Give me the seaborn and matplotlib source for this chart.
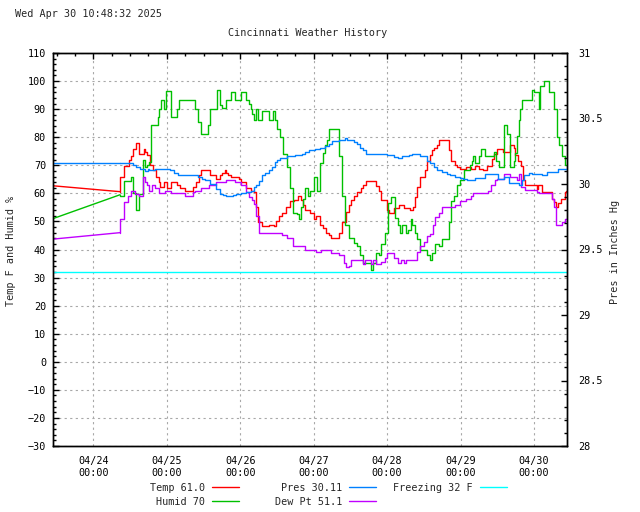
import matplotlib
matplotlib.use("Agg")
import matplotlib.pyplot as plt
from matplotlib.lines import Line2D
from matplotlib.ticker import MultipleLocator, FixedLocator, FuncFormatter
import pandas as pd
import seaborn as sns

sns.set_style("white")
plt.rcParams['font.family'] = ['DejaVu Sans Mono', 'DejaVu Sans']

# time axis: hours since 04/23 00:00 ; window 04/23 10:48 -> 04/30 10:48
X_START, X_END = 10.8, 178.8
DAY_TICKS = [24, 48, 72, 96, 120, 144, 168]
DAY_LABELS = ["04/24\n00:00", "04/25\n00:00", "04/26\n00:00", "04/27\n00:00",
              "04/28\n00:00", "04/29\n00:00", "04/30\n00:00"]

TEMP = [(10.8, 62.7), (32.7, 60.6), (32.8, 66.0), (33.9, 69.7), (35.5, 72.0), (36.2, 73.2), (37.1, 75.9),
        (37.9, 78.0), (38.8, 74.0), (40.4, 75.9), (41.0, 74.7), (41.5, 73.8), (42.6, 70.0), (43.4, 68.2),
        (44.5, 65.8), (45.3, 64.0), (45.8, 62.2), (47.2, 64.0), (48.0, 62.0), (49.4, 64.0), (51.3, 62.8),
        (52.2, 62.0), (54.0, 61.0), (56.7, 62.2), (57.5, 64.0), (58.4, 66.4), (59.2, 68.2), (62.2, 66.4),
        (64.1, 65.0), (65.5, 66.4), (66.2, 67.2), (67.1, 68.2), (67.5, 67.2), (68.1, 66.4), (69.0, 65.8),
        (71.7, 65.0), (72.2, 64.0), (73.8, 62.0), (75.5, 61.0), (76.6, 60.4), (77.1, 55.1), (77.7, 49.8),
        (79.1, 48.2), (81.3, 48.9), (82.9, 48.2), (83.8, 50.1), (84.6, 51.8), (85.7, 53.1), (87.1, 55.1),
        (88.4, 57.1), (89.5, 57.8), (90.9, 58.9), (91.9, 57.8), (92.5, 55.7), (93.3, 53.9), (94.9, 53.1),
        (96.0, 50.9), (96.9, 52.1), (98.2, 48.9), (99.0, 47.7), (100.1, 45.8), (100.9, 45.0), (101.7, 44.2),
        (104.3, 46.0), (105.4, 49.8), (106.5, 53.3), (107.4, 55.7), (108.1, 57.5), (109.2, 58.9),
        (110.3, 60.4), (111.4, 62.0), (112.2, 63.1), (113.0, 64.3), (116.3, 62.6), (117.2, 60.8),
        (117.9, 57.8), (120.1, 53.9), (120.7, 53.0), (122.3, 54.8), (123.9, 55.7), (125.5, 54.8),
        (127.4, 53.9), (128.4, 55.1), (129.2, 58.6), (129.7, 62.2), (130.8, 66.0), (132.5, 68.4),
        (133.2, 71.7), (134.1, 73.5), (134.6, 75.3), (135.4, 76.1), (136.3, 77.4), (137.1, 79.1),
        (140.1, 75.3), (140.8, 71.5), (142.3, 70.0), (142.8, 69.4), (143.7, 68.8), (145.8, 69.4),
        (147.4, 68.8), (148.8, 69.7), (149.9, 68.8), (151.5, 68.2), (152.8, 69.7), (154.3, 72.3),
        (154.8, 74.0), (155.9, 75.9), (157.8, 74.7), (160.3, 77.1), (161.4, 76.3), (161.9, 73.5),
        (162.8, 71.7), (163.8, 69.7), (164.3, 64.6), (165.2, 62.8), (169.0, 61.6), (169.3, 62.8),
        (170.6, 60.4), (173.9, 58.1), (174.6, 57.0), (175.2, 55.1), (176.0, 56.5), (176.9, 58.1),
        (178.0, 60.4), (178.5, 61.0), (178.8, 61.0)]

HUMID = [(10.8, 51.0), (32.7, 59.5), (32.8, 59.1), (33.9, 64.3), (36.2, 66.0), (37.1, 60.1), (38.0, 53.9),
         (38.75, 59.9), (40.2, 72.0), (40.9, 69.4), (41.5, 70.2), (42.2, 71.1), (42.9, 84.2), (45.1, 87.2),
         (45.6, 90.1), (46.1, 93.1), (47.2, 90.1), (47.8, 96.3), (49.4, 87.2), (51.3, 90.1), (52.1, 93.1),
         (57.3, 90.1), (58.3, 85.4), (59.2, 81.0), (61.3, 84.2), (62.1, 90.1), (64.3, 96.9), (65.5, 91.3),
         (66.2, 90.5), (67.5, 93.1), (69.0, 96.1), (70.4, 93.1), (72.2, 96.1), (73.8, 93.1), (74.9, 91.9),
         (75.5, 90.1), (76.0, 88.4), (76.6, 86.0), (77.1, 90.1), (77.7, 86.0), (79.1, 89.2), (81.3, 86.0),
         (82.7, 89.2), (83.5, 86.0), (84.0, 83.0), (84.9, 80.0), (85.9, 74.1), (87.3, 69.4), (88.2, 62.0),
         (89.1, 53.1), (90.6, 52.5), (91.1, 50.9), (91.9, 55.1), (92.5, 58.1), (93.3, 62.0), (94.0, 58.9),
         (94.7, 61.0), (96.0, 66.0), (97.1, 61.0), (98.2, 70.8), (99.0, 74.3), (99.8, 77.1), (100.4, 78.9),
         (100.9, 83.0), (104.3, 73.2), (105.2, 58.9), (106.3, 48.6), (107.4, 44.2), (109.2, 42.3),
         (110.0, 41.4), (111.1, 37.9), (112.2, 35.2), (114.7, 32.8), (115.4, 35.2), (116.3, 38.7),
         (117.2, 37.9), (117.9, 42.0), (119.3, 46.0), (120.4, 56.5), (121.2, 58.7), (122.6, 51.3),
         (123.4, 48.9), (124.2, 45.8), (125.0, 48.9), (126.1, 45.8), (126.9, 47.0), (127.7, 50.9),
         (128.1, 48.9), (129.2, 45.8), (129.7, 43.8), (130.8, 39.9), (133.2, 37.9), (133.9, 36.1),
         (134.6, 38.7), (135.7, 42.0), (137.1, 41.1), (138.1, 43.8), (140.1, 49.8), (140.8, 57.1),
         (141.9, 59.0), (142.8, 63.1), (143.9, 64.8), (145.0, 68.4), (147.2, 70.0), (147.7, 71.7),
         (148.2, 73.2), (148.8, 70.8), (149.9, 73.2), (150.6, 75.9), (152.1, 73.2), (154.8, 74.7),
         (155.6, 71.7), (156.5, 69.4), (158.1, 84.2), (159.2, 81.2), (160.3, 69.4), (161.4, 71.7),
         (161.9, 74.3), (162.5, 80.6), (163.0, 86.2), (163.5, 90.1), (164.1, 93.1), (167.3, 96.9),
         (167.9, 96.1), (169.5, 90.1), (170.1, 98.1), (171.2, 100.0), (172.8, 96.1), (174.4, 90.1),
         (175.5, 80.0), (176.3, 77.1), (177.1, 73.2), (178.0, 70.0), (178.8, 70.0)]

DEWPT = [(10.8, 43.7), (32.7, 46.0), (32.8, 50.9), (33.9, 56.9), (35.2, 58.9), (36.2, 61.0), (37.7, 59.9),
         (38.75, 58.9), (40.2, 66.0), (40.9, 64.0), (41.5, 62.8), (42.3, 61.0), (43.1, 62.8), (44.2, 62.0),
         (45.3, 60.1), (47.5, 61.0), (49.4, 60.1), (54.0, 58.9), (56.4, 60.4), (57.3, 61.0), (59.2, 62.0),
         (61.7, 62.8), (64.1, 64.0), (67.3, 64.8), (70.4, 64.0), (72.2, 63.1), (73.8, 60.4), (74.9, 58.7),
         (75.8, 57.5), (76.6, 56.3), (77.3, 52.1), (78.2, 45.8), (85.5, 45.0), (87.3, 44.2), (89.1, 41.1),
         (93.3, 39.9), (96.9, 39.1), (98.4, 39.9), (101.7, 38.7), (104.3, 37.9), (106.0, 35.2),
         (106.7, 33.7), (107.6, 34.3), (108.1, 36.1), (112.2, 34.9), (112.8, 36.1), (114.7, 34.9),
         (115.4, 36.1), (116.3, 34.9), (117.9, 35.5), (119.3, 37.1), (120.1, 38.7), (122.3, 37.1),
         (123.4, 35.2), (124.5, 36.1), (125.5, 35.2), (126.3, 36.1), (129.7, 39.1), (130.8, 41.1),
         (132.1, 42.6), (133.0, 44.8), (134.1, 45.6), (135.0, 48.9), (135.7, 51.5), (137.1, 53.1),
         (138.1, 55.1), (142.3, 55.9), (143.9, 57.1), (145.9, 58.1), (147.4, 59.0), (148.2, 60.1),
         (153.1, 61.0), (154.1, 62.8), (155.2, 64.6), (155.9, 65.2), (158.1, 67.0), (160.3, 65.8),
         (162.5, 64.8), (163.2, 67.0), (163.9, 62.2), (165.2, 61.3), (169.0, 60.4), (169.5, 60.1),
         (173.9, 58.1), (174.6, 55.1), (175.2, 48.9), (177.1, 49.8), (178.2, 50.9), (178.8, 51.1)]

PRES = [(10.8, 30.162), (32.7, 30.162), (37.1, 30.147), (38.0, 30.130), (39.1, 30.111), (40.9, 30.096),
        (41.7, 30.111), (42.3, 30.104), (44.2, 30.111), (49.1, 30.104), (50.2, 30.085), (51.8, 30.066),
        (58.3, 30.053), (59.5, 30.040), (60.6, 30.027), (62.2, 30.002), (64.1, 29.963), (65.4, 29.927),
        (66.4, 29.914), (67.5, 29.905), (69.5, 29.914), (70.6, 29.920), (72.2, 29.931), (73.8, 29.937),
        (75.5, 29.950), (76.6, 29.976), (77.3, 29.989), (78.2, 30.021), (79.1, 30.066), (80.2, 30.083),
        (81.3, 30.108), (82.4, 30.130), (83.2, 30.167), (84.0, 30.186), (85.1, 30.201), (87.3, 30.212),
        (90.0, 30.218), (92.2, 30.231), (93.3, 30.244), (94.4, 30.257), (96.5, 30.265), (98.2, 30.274),
        (99.8, 30.287), (100.9, 30.302), (102.0, 30.325), (104.3, 30.338), (106.3, 30.353), (107.0, 30.338),
        (109.2, 30.321), (110.0, 30.302), (111.1, 30.274), (112.2, 30.257), (113.0, 30.231), (114.7, 30.227),
        (116.8, 30.231), (120.1, 30.223), (122.3, 30.205), (123.4, 30.201), (125.0, 30.212), (127.2, 30.218),
        (128.3, 30.231), (130.8, 30.212), (133.0, 30.175), (134.1, 30.160), (135.3, 30.130), (136.3, 30.108),
        (137.9, 30.092), (139.5, 30.079), (140.6, 30.066), (142.3, 30.057), (143.7, 30.049), (144.8, 30.040),
        (146.1, 30.032), (148.8, 30.049), (152.0, 30.079), (156.2, 30.040), (158.1, 30.053), (159.9, 30.010),
        (163.0, 29.989), (164.1, 30.027), (164.9, 30.072), (166.3, 30.083), (167.3, 30.079), (170.6, 30.072),
        (172.2, 30.092), (176.0, 30.111), (178.8, 30.111)]

FREEZING = 32
LEGEND_LABELS = ["Temp 61.0", "Humid 70", "Pres 30.11", "Dew Pt 51.1", "Freezing 32 F"]

RED, GREEN, BLUE, PURPLE, CYAN = "#ff0000", "#00c000", "#0080ff", "#c000ff", "#00ffff"
FS = 7.3
LW = 1.0

W, H = 640, 512
fig = plt.figure(figsize=(W / 100, H / 100), dpi=100)
L, R, T, B = 53, 567, 53, 446
ax = fig.add_axes([L / W, 1 - B / H, (R - L) / W, (B - T) / H])
ax2 = ax.twinx()


def draw(axis, pairs, color):
    df = pd.DataFrame(pairs, columns=["h", "v"])
    # first segment: gap in the record, joined by a straight line
    sns.lineplot(data=df.iloc[:2], x="h", y="v", color=color, lw=LW, ax=axis,
                 estimator=None, sort=False)
    sns.lineplot(data=df.iloc[1:], x="h", y="v", color=color, lw=LW, ax=axis,
                 estimator=None, sort=False, drawstyle="steps-post")


draw(ax, TEMP, RED)
draw(ax, HUMID, GREEN)
draw(ax, DEWPT, PURPLE)
ax.axhline(FREEZING, color=CYAN, lw=LW)
draw(ax2, PRES, BLUE)

# left axis
ax.set_xlim(X_START, X_END)
ax.set_ylim(-30, 110)
ax.yaxis.set_major_locator(MultipleLocator(10))
ax.yaxis.set_minor_locator(MultipleLocator(2))
ax.xaxis.set_major_locator(FixedLocator(DAY_TICKS))
ax.set_xticklabels(DAY_LABELS)
ax.xaxis.set_minor_locator(MultipleLocator(6))
ax.set_xlabel("")
ax.set_ylabel("")
ax.grid(True, which="major", color="#a8a8a8", linestyle=(0, (2, 3)), linewidth=0.8)
ax.set_axisbelow(True)
ax.tick_params(axis="both", which="both", direction="in", top=True, right=False,
               labelsize=FS, width=1, color="black", labelcolor="black")
ax.tick_params(which="major", length=4.5)
ax.tick_params(which="minor", length=2.2)
ax.tick_params(axis="y", pad=5)
ax.tick_params(axis="x", pad=7)
for lab in ax.get_xticklabels():
    lab.set_linespacing(1.3)

# right axis
ax2.set_ylim(28, 31)
ax2.yaxis.set_major_locator(MultipleLocator(0.5))
ax2.yaxis.set_minor_locator(MultipleLocator(0.1))
ax2.yaxis.set_major_formatter(FuncFormatter(lambda v, p: f"{v:g}"))
ax2.set_ylabel("")
ax2.set_xlabel("")
ax2.tick_params(axis="y", which="both", direction="in", labelsize=FS, width=1, pad=8,
                color="black", labelcolor="black")
ax2.tick_params(which="major", length=4.5)
ax2.tick_params(which="minor", length=2.2)

for a in (ax, ax2):
    for s in a.spines.values():
        s.set_color("black")
        s.set_linewidth(1.0)

# texts
fig.text(15 / W, 1 - 14 / H, "Wed Apr 30 10:48:32 2025", ha="left", va="center", fontsize=FS)
fig.text(308 / W, 1 - 33 / H, "Cincinnati Weather History", ha="center", va="center", fontsize=FS)
fig.text(11 / W, 1 - 251 / H, "Temp F and Humid %", ha="center", va="center", rotation=90, fontsize=FS)
fig.text(615 / W, 1 - 252 / H, "Pres in Inches Hg", ha="center", va="center", rotation=90, fontsize=FS)

# legend (gnuplot style: right-aligned text then sample line)
handles = [Line2D([], [], color=c, lw=LW) for c in (RED, GREEN, BLUE, PURPLE, CYAN)]
groups = [([0, 1], 239), ([2, 3], 376), ([4], 507)]
for idx, xr in groups:
    lg = fig.legend([handles[i] for i in idx], [LEGEND_LABELS[i] for i in idx],
                    loc="upper right", bbox_to_anchor=(xr / W, 1 - 483 / H),
                    frameon=False, markerfirst=False, fontsize=FS, handlelength=2.65,
                    handletextpad=0.7, labelspacing=0.38, borderpad=0, borderaxespad=0)

fig.savefig("out.png", dpi=100)
